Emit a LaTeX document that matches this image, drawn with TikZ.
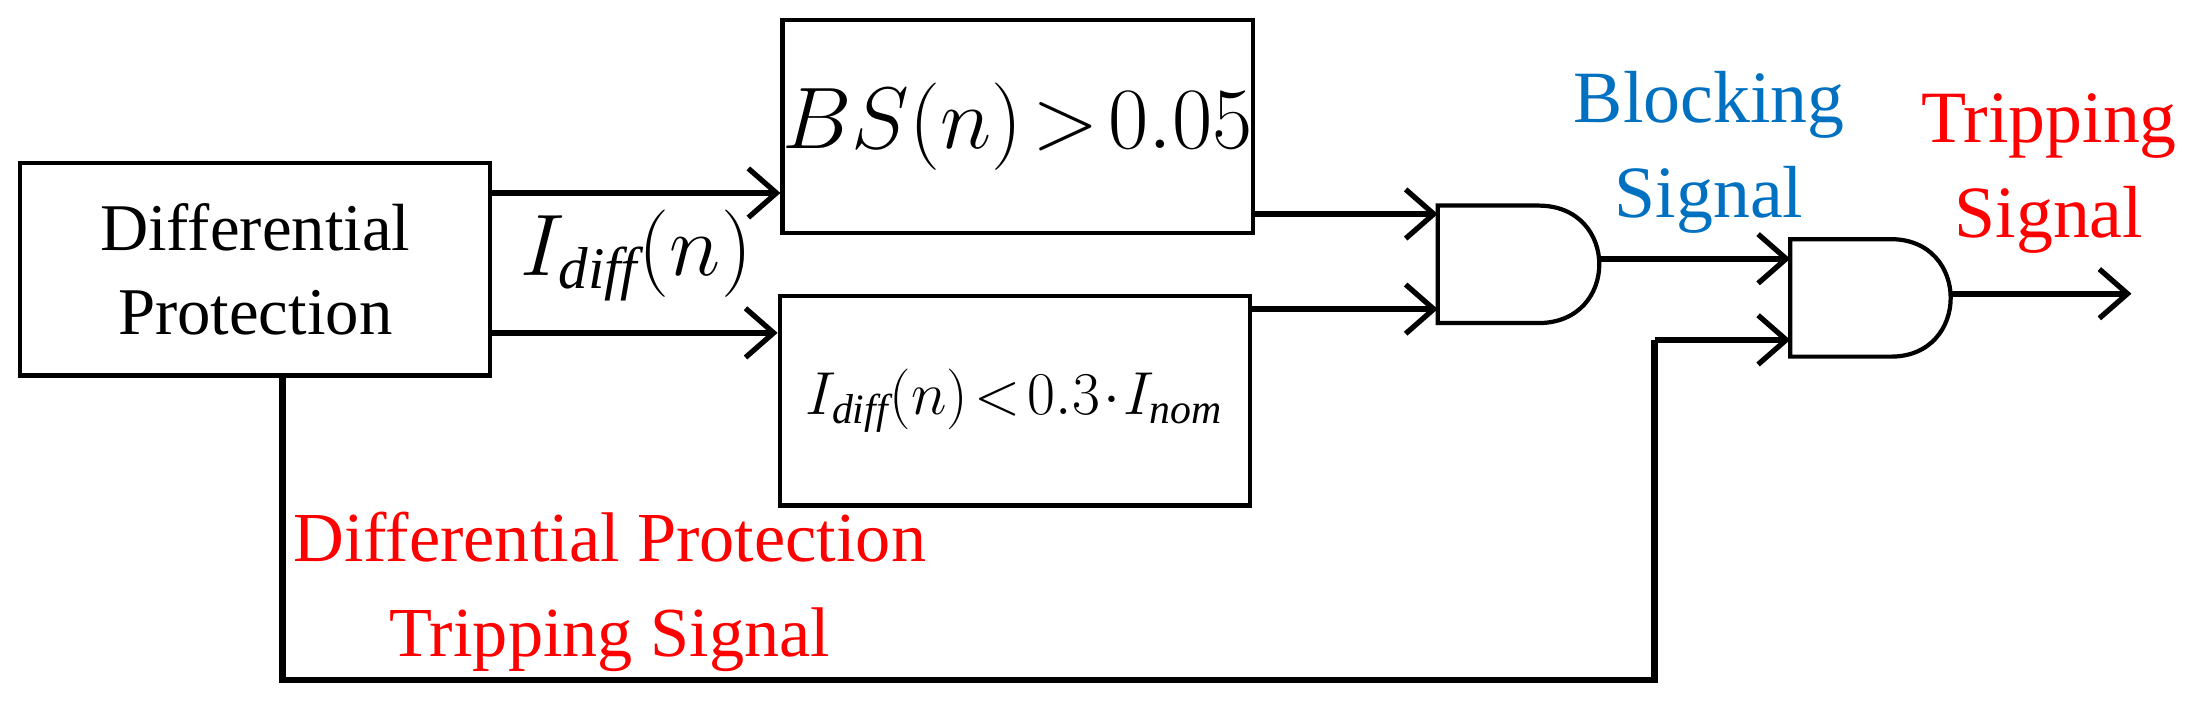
\documentclass[tikz,border=0pt]{standalone}
\usepackage{fontspec}
\setmainfont{Liberation Serif}
\usetikzlibrary{arrows.meta}
\definecolor{myred}{RGB}{255,0,0}
\definecolor{myblue}{RGB}{0,112,192}
\begin{document}
\begin{tikzpicture}[x=0.013986cm,y=-0.013986cm,
  box/.style={draw,line width=1.2pt,minimum width=336*0.013986cm,anchor=north west,inner sep=0},
  conn/.style={line width=1.8pt,-{Straight Barb[length=8pt,width=14pt,line width=1.5pt]}},
  wire/.style={line width=1.8pt},
  txt/.style={font=\fontsize{19}{24}\selectfont,align=center}]
\useasboundingbox (0,0) rectangle (1568,504);
\node[box,minimum height=152*0.013986cm,txt] (dp) at (13,115) {Differential\\Protection};
\node[box,minimum height=152*0.013986cm,font=\fontsize{24}{28}\selectfont] (bs) at (558,13) {$BS(n)\!>\!0.05$};
\node[box,minimum height=150*0.013986cm,font=\fontsize{17}{20}\selectfont] (id) at (556,210) {$I_{\mathit{diff}}(n)\!<\!0.3\!\cdot\! I_{\mathit{nom}}$};
% AND gates
\draw[line width=1.2pt] (1028,147) -- (1100,147) .. controls (1158,147) and (1158,231) .. (1100,231) -- (1028,231) -- cycle;
\draw[line width=1.2pt] (1280,171) -- (1352,171) .. controls (1409,171) and (1409,255) .. (1352,255) -- (1280,255) -- cycle;
\coordinate (a1) at (1028,153); \coordinate (a2) at (1028,221);
\coordinate (o1) at (1143,185);
\coordinate (b1) at (1280,185); \coordinate (b2) at (1280,243);
\coordinate (o2) at (1394,210); \coordinate (out) at (1524,210);
\coordinate (c1) at (202,486); \coordinate (c2) at (1183,486); \coordinate (c3) at (1183,243);
\draw[conn] (349,138) -- (bs.west |- 0,138);
\draw[conn] (352,238) -- (id.west |- 0,238);
\draw[conn] (897,153) -- (a1);
\draw[conn] (892,221) -- (a2);
\draw[conn] (o1) -- (b1);
\draw[conn] (o2) -- (out);
\draw[wire] (dp.south -| c1) -- (c1) -- (c2) -- (c3);
\draw[conn] (c3) -- (b2);
\node[font=\fontsize{24}{26}\selectfont] (lab) at (455,183) {$I_{\mathit{diff}}(n)$};
\node[txt,text=myred,font=\fontsize{20}{27}\selectfont] (t1) at (436,423) {Differential Protection\\Tripping Signal};
\node[txt,text=myblue,font=\fontsize{21}{27}\selectfont] (t2) at (1222,109) {Blocking\\Signal};
\node[txt,text=myred,font=\fontsize{21}{27}\selectfont] (t3) at (1465,124) {Tripping\\Signal};
\end{tikzpicture}
\end{document}
